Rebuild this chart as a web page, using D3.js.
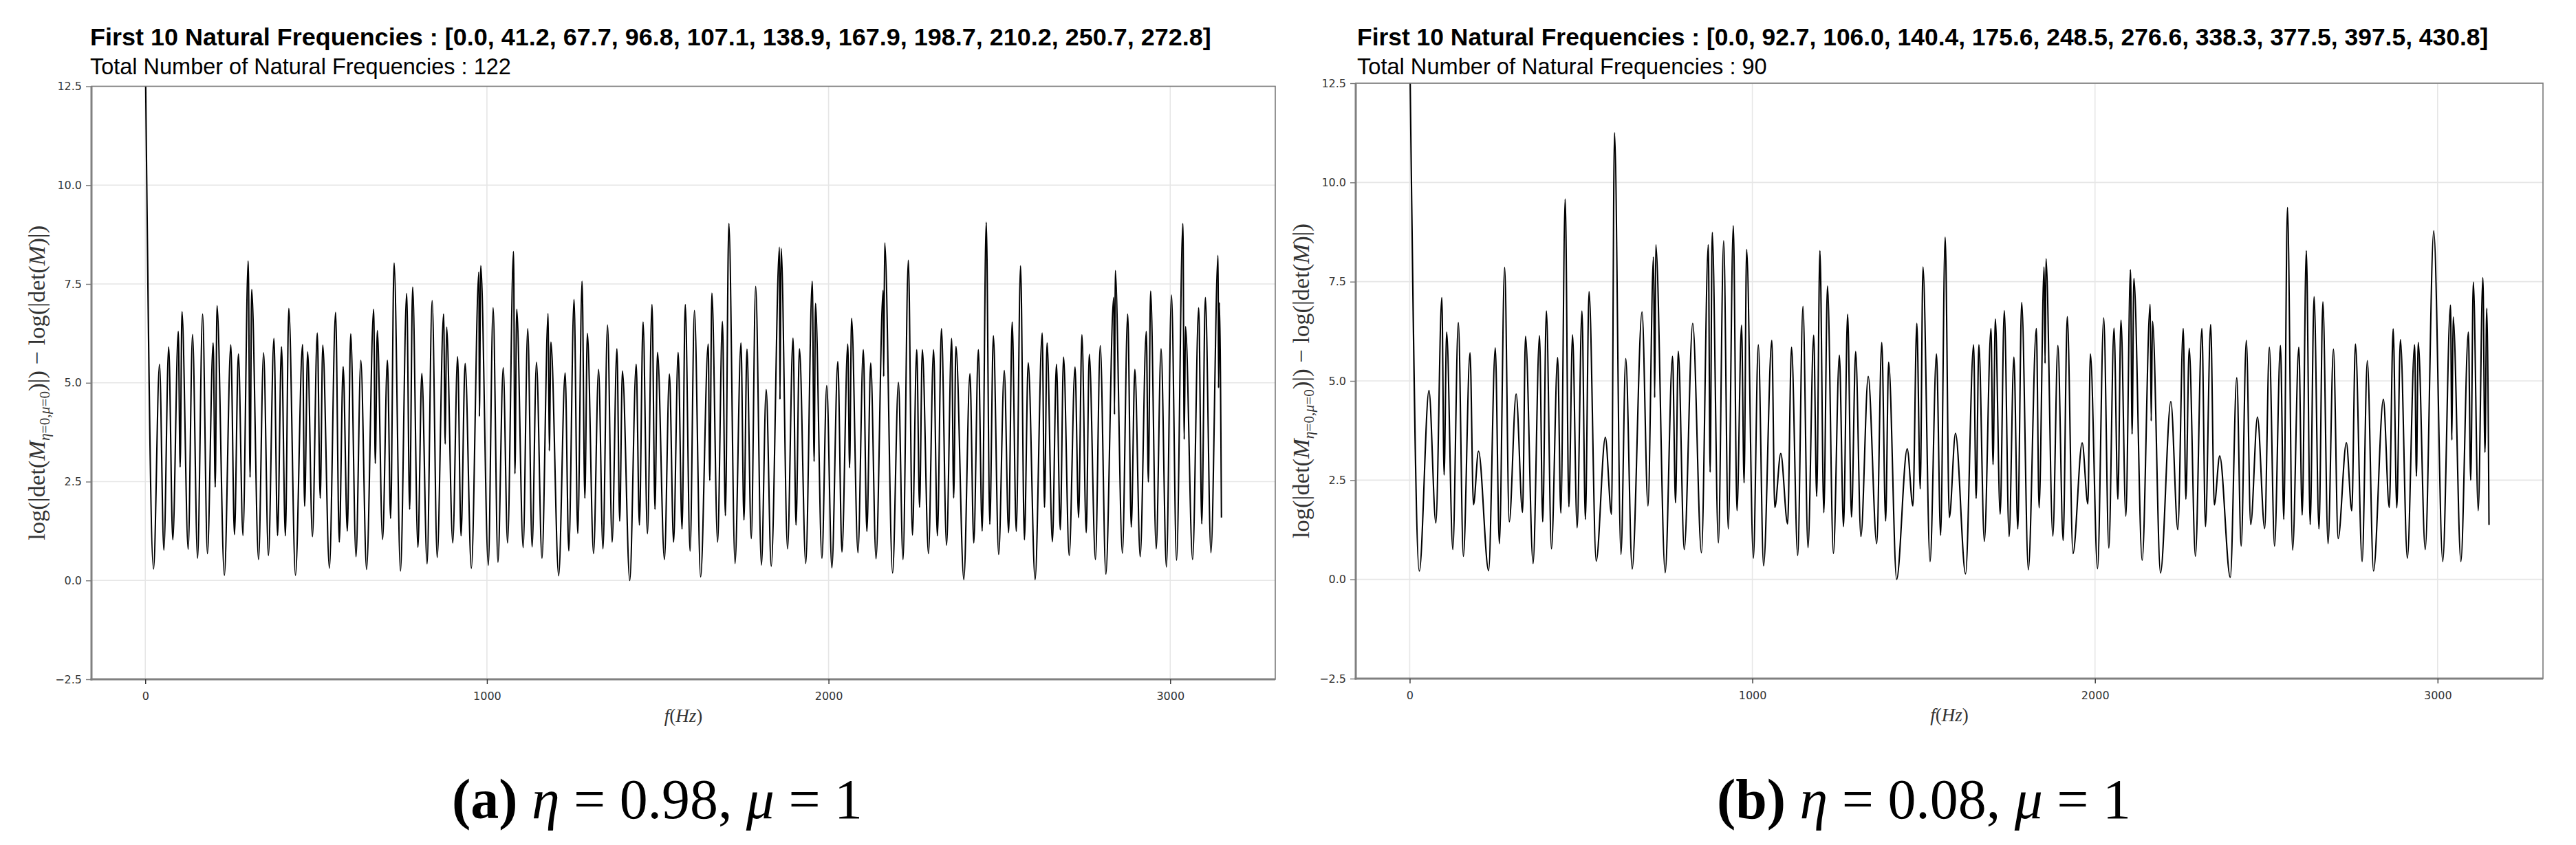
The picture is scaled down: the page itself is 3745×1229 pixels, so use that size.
<!DOCTYPE html>
<html><head><meta charset="utf-8">
<script src="https://cdn.jsdelivr.net/npm/d3@7/dist/d3.min.js"></script>
<style>body{margin:0;background:#fff}svg{display:block}</style>
</head><body>
<svg id="c" width="3745" height="1229"></svg>
<script>
// ---------- DATA ----------
const freqA=[0,24.2,41.6,54.4,68.5,80.5,96.6,102,107.4,125.5,138.3,153,167.8,181.9,198.7,204.7,210,231.5,250.3,261,272.5,285.9,301.3,306.7,311.4,331.5,346.3,360.4,376.5,387.2,398.7,410,420.1,439.6,460.4,466.4,475.2,489.3,503.4,512.1,519.5,538.9,557,567.8,579.2,591.3,601.3,616.8,630.9,647.7,668.5,673.2,679.2,694.6,708.7,718.1,728.2,747,765.1,773.8,782.6,798,809.4,824.8,839.6,854.4,873.2,877.9,881.9,900,914.1,924.2,936.2,954.4,976.5,977.9,981.9,1004,1018.1,1032.2,1047.7,1060.4,1077.9,1081.9,1087.2,1106,1119.5,1132.2,1145,1161.1,1179.2,1182.6,1187.2,1210,1228.9,1239.6,1255,1265.8,1278.5,1286.6,1294,1312.1,1326.8,1339.6,1353,1366.4,1380.5,1388.6,1396.6,1418.1,1436.9,1446.3,1457,1469.8,1483.2,1491.9,1499.3,1519.5,1534.2,1546.3,1559.7,1571.1,1580.5,1594.6,1607.4,1625.5,1647.7,1652.3,1658.4,1675.2,1689.3,1698,1708.1,1726.2,1743.6,1752.3,1761.1,1773.8,1786.6,1803.4,1817.4,1832.2,1856.4,1857.7,1861.1,1879.9,1896,1904.7,1914.8,1933.2,1952.3,1957.7,1961.7,1980.5,1994.6,2009.7,2027,2039.1,2056.2,2061.5,2067.4,2086,2101.7,2112.1,2123.3,2138.9,2159.8,2161.3,2164.3,2187.4,2204.5,2217.9,2233.5,2245.4,2258.1,2266.3,2274.5,2292.4,2307.3,2318.5,2330.4,2345.3,2360.2,2366.1,2372.8,2395.9,2413.8,2425,2438.4,2449.6,2461.5,2471.9,2482.4,2497.9,2514.3,2527,2537.4,2549.3,2562,2573.2,2584.4,2604.5,2625.3,2632,2639.5,2655.1,2667,2678.2,2687.8,2704.3,2721.4,2731.8,2741.5,2754.2,2763.1,2781.1,2795.2,2811.6,2834.6,2836.9,2839.1,2860,2875.6,2886,2896.5,2912.1,2930,2936,2942.6,2959,2973.2,2988.8,3003.7,3018.6,3037.2,3041,3044.7,3065.5,3083.4,3092.4,3102.8,3119.2,3140.1,3141.5,3143.8,3150];
const valA=[13.5,0.29,5.47,0.77,5.91,1.03,6.30,2.87,6.80,0.79,6.22,0.56,6.74,0.68,6.01,2.36,6.95,0.13,5.96,1.16,5.73,1.14,8.08,2.61,7.36,0.53,5.76,0.63,6.12,1.14,5.91,1.13,6.88,0.13,5.97,1.88,5.78,1.11,6.26,2.08,5.95,0.31,6.78,0.97,5.41,1.25,6.24,0.60,5.57,0.28,6.86,2.96,6.32,1.04,5.57,1.57,8.03,0.24,7.26,1.80,7.42,0.84,5.24,0.42,7.08,0.58,6.74,3.45,6.41,0.95,5.66,1.13,5.49,0.31,7.80,4.15,7.96,0.38,6.90,0.46,5.38,0.95,8.32,2.70,6.86,0.83,6.37,0.85,5.52,0.56,6.75,3.28,6.03,0.12,5.25,0.75,7.11,1.19,7.57,2.08,6.25,0.68,5.34,0.80,6.46,0.97,5.86,1.50,5.30,0.0,5.47,1.40,6.54,1.18,6.98,1.80,5.77,0.53,5.22,0.97,5.77,1.30,6.98,0.74,6.83,0.09,5.98,2.53,7.27,0.97,6.55,1.64,9.03,0.43,6.01,1.53,5.85,1.06,7.44,0.39,4.83,0.36,8.43,4.58,8.40,0.80,6.13,1.40,5.86,0.43,7.57,3.01,7.01,0.56,4.93,0.32,5.54,0.72,5.98,2.85,6.63,0.70,5.84,1.24,5.50,0.55,7.34,5.16,8.54,0.19,5.01,0.53,8.10,1.15,5.84,1.85,5.84,0.68,5.84,1.13,6.37,0.89,6.12,2.09,5.92,0.02,5.23,0.95,5.84,1.25,9.06,1.42,6.19,0.66,5.31,1.21,6.54,1.24,7.96,1.03,5.51,0.02,6.26,1.85,6.01,0.98,5.47,1.28,5.65,0.63,5.40,1.59,6.21,1.21,5.72,0.53,5.94,0.16,7.16,4.20,7.84,0.69,6.74,1.35,5.34,0.60,6.30,2.49,7.32,0.80,5.86,0.34,7.22,0.51,9.03,3.57,6.42,0.53,6.90,1.43,7.16,0.70,8.22,4.87,7.03,1.59];

const freqB=[0,28.1,56.2,76.3,93.7,100.4,107.8,125.8,141.9,156.6,176,186.1,200.8,230.3,249.7,261.7,277.1,290.5,310.6,329.3,338,360.1,378.8,388.2,398.9,413.7,431.7,441.1,453.8,464.5,475.2,488.6,502.7,512.7,523.4,544.2,570.9,589,597.7,616.5,630.5,649.3,678,695.4,711.5,714.9,718.2,745.6,767.1,775.8,783.8,801.2,826,851.4,871.5,876.8,882.9,900.9,916.3,929.7,944.4,955.1,968.5,975.9,983.3,1003,1017.4,1032.8,1056.8,1065.5,1082.9,1102.9,1114.3,1132.4,1147.7,1162.4,1179.1,1187.8,1197.2,1208.6,1219.3,1236.6,1254,1266,1278.1,1289.4,1301.5,1316.8,1338.2,1363,1377.7,1389,1397.7,1421.1,1451.9,1468.6,1480,1490,1498,1518.7,1537.4,1549.5,1562.8,1574.9,1592.9,1622.3,1645.7,1653.1,1661.1,1677.1,1696.5,1702.5,1709.2,1723.3,1735.3,1749.3,1763.4,1774.7,1786.1,1805.5,1828.9,1836.9,1851.6,1854.3,1857,1877,1891.7,1907.1,1919.1,1935.8,1962.6,1979.3,1986.6,2007.5,2025.5,2040.4,2055.5,2066.8,2075.8,2090.1,2103.7,2108.3,2113.5,2137.7,2161.1,2164.1,2167.9,2191.2,2221.4,2241.8,2257.6,2265.2,2275,2293.1,2312,2322.5,2337.6,2348.2,2364,2394.9,2413.8,2426.6,2441.7,2454.5,2474.2,2495.3,2508.9,2524,2541.3,2551.1,2561.7,2576.8,2594.9,2604.7,2616.8,2628.1,2639.4,2653.8,2665.1,2680.2,2696,2709.6,2733.7,2749.5,2760.1,2779.7,2794.8,2812.9,2841.6,2858.9,2870.3,2880.8,2891.4,2911.7,2932.9,2938.1,2943.4,2963.8,2988.7,3015,3037.7,3041.5,3045.3,3067.9,3089.8,3096.6,3104.2,3118.5,3132.1,3138.1,3143.4,3150];
const valB=[13.5,0.21,4.76,1.42,7.10,2.63,6.23,0.75,6.47,0.58,5.71,1.88,3.23,0.22,5.83,0.90,7.86,1.45,4.67,1.69,6.12,0.40,6.14,1.45,6.76,0.77,5.59,1.67,9.58,1.83,6.16,1.30,6.76,1.51,7.25,0.46,3.58,1.64,11.25,0.63,5.56,0.26,6.74,1.85,8.12,4.58,8.43,0.17,5.62,1.93,5.75,0.75,6.45,0.67,8.43,2.70,8.74,0.92,8.53,1.27,8.91,1.73,6.40,2.43,8.31,0.53,5.91,0.34,6.02,1.81,3.17,1.40,5.85,0.60,6.88,0.80,6.15,2.09,8.28,1.68,7.39,0.65,5.65,1.33,6.68,1.57,5.74,1.08,5.11,0.90,5.97,1.47,5.47,0.0,3.29,1.85,6.45,2.28,7.87,0.45,5.68,1.11,8.62,1.56,3.68,0.14,5.91,2.04,5.91,0.96,6.32,2.89,6.56,1.64,6.77,1.08,5.60,1.27,6.98,0.24,6.32,1.80,7.87,5.44,8.08,1.09,5.89,0.98,6.62,0.65,3.44,1.90,5.68,0.27,6.59,0.79,6.33,2.02,6.53,1.59,7.80,3.66,7.58,0.48,6.93,3.99,6.50,0.16,4.48,1.25,6.32,2.02,5.82,0.58,6.32,1.33,6.42,1.88,3.11,0.05,5.08,0.84,6.02,1.38,4.09,1.28,5.85,0.84,5.89,1.51,9.37,0.74,5.85,1.62,8.28,1.38,7.12,1.27,6.99,0.90,5.80,1.03,3.44,1.73,5.93,0.45,5.51,0.21,4.54,1.81,6.31,1.80,6.04,0.53,5.91,2.60,5.97,0.75,8.78,0.45,6.91,3.51,6.61,0.45,6.23,2.50,7.49,1.73,7.60,3.20,6.83,1.37];

const xTicks=[0,1000,2000,3000];
const yTicks=[-2.5,0,2.5,5,7.5,10,12.5];
const xDomain=[-157.5,3307.5];
const yDomain=[-2.5,12.5];
const titleA="First 10 Natural Frequencies : [0.0, 41.2, 67.7, 96.8, 107.1, 138.9, 167.9, 198.7, 210.2, 250.7, 272.8]";
const subA="Total Number of Natural Frequencies : 122";
const titleB="First 10 Natural Frequencies : [0.0, 92.7, 106.0, 140.4, 175.6, 248.5, 276.6, 338.3, 377.5, 397.5, 430.8]";
const subB="Total Number of Natural Frequencies : 90";
const capLabels=["(a)","(b)"];
const capEta=["0.98","0.08"];
const capMu=["1","1"];

// ---------- DRAWING ----------
const svg=d3.select("#c");
svg.append("rect").attr("width",3745).attr("height",1229).attr("fill","#fff");

function fitWidth(sel,target){
  const w=sel.node().getComputedTextLength();
  const fs=parseFloat(sel.attr("font-size"));
  sel.attr("font-size",(fs*target/w).toFixed(2));
}

const panels=[
  {freq:freqA,val:valA,title:titleA,sub:subA,x0:133,x1:1854,y0:125.5,y1:988,titleX:131,titleW:1630,subW:612,cap:0,capX:657,capW:597},
  {freq:freqB,val:valB,title:titleB,sub:subB,x0:1971,x1:3697,y0:121,y1:987,titleX:1973,titleW:1645,subW:596,cap:1,capX:2496,capW:602}
];

panels.forEach((p,pi)=>{
  const g=svg.append("g");
  const x=d3.scaleLinear().domain(xDomain).range([p.x0,p.x1]);
  const y=d3.scaleLinear().domain(yDomain).range([p.y1,p.y0]);

  // grid
  g.append("g").selectAll("line").data(xTicks).join("line")
    .attr("x1",d=>x(d)).attr("x2",d=>x(d)).attr("y1",p.y0).attr("y2",p.y1)
    .attr("stroke","#e6e6e6").attr("stroke-width",1.6);
  g.append("g").selectAll("line").data(yTicks).join("line")
    .attr("x1",p.x0).attr("x2",p.x1).attr("y1",d=>y(d)).attr("y2",d=>y(d))
    .attr("stroke","#e6e6e6").attr("stroke-width",1.6);

  // clip
  const cid="clip"+pi;
  svg.append("clipPath").attr("id",cid).append("rect")
    .attr("x",p.x0).attr("y",p.y0).attr("width",p.x1-p.x0).attr("height",p.y1-p.y0);

  const line=d3.line().x((d,i)=>x(p.freq[i])).y(d=>y(d)).curve(d3.curveMonotoneX);
  g.append("path").attr("d",line(p.val)).attr("fill","none").attr("stroke","#000")
    .attr("stroke-width",2.1).attr("stroke-linejoin","round").attr("clip-path","url(#"+cid+")");

  // frame
  g.append("rect").attr("x",p.x0).attr("y",p.y0).attr("width",p.x1-p.x0).attr("height",p.y1-p.y0)
    .attr("fill","none").attr("stroke","#7a7a7a").attr("stroke-width",1.6);
  g.append("line").attr("x1",p.x0).attr("x2",p.x0).attr("y1",p.y0).attr("y2",p.y1+1.5).attr("stroke","#808080").attr("stroke-width",3);
  g.append("line").attr("x1",p.x0-1.5).attr("x2",p.x1).attr("y1",p.y1).attr("y2",p.y1).attr("stroke","#808080").attr("stroke-width",3);

  // axes
  const ya=g.append("g").attr("transform",`translate(${p.x0},0)`)
    .call(d3.axisLeft(y).tickValues(yTicks).tickFormat(d3.format(".1f")).tickSize(8).tickPadding(6));
  ya.select(".domain").remove();
  ya.selectAll(".tick line").attr("stroke","#777").attr("stroke-width",1.4);
  ya.selectAll(".tick text").attr("font-family","DejaVu Sans").attr("font-size",16).attr("fill","#333");

  const xa=g.append("g").attr("transform",`translate(0,${p.y1})`)
    .call(d3.axisBottom(x).tickValues(xTicks).tickFormat(d3.format("d")).tickSize(7).tickPadding(12));
  xa.select(".domain").remove();
  xa.selectAll(".tick line").attr("stroke","#333").attr("stroke-width",1.4);
  xa.selectAll(".tick text").attr("font-family","DejaVu Sans").attr("font-size",16).attr("fill","#333");

  // x title
  const cx=(p.x0+p.x1)/2;
  const xt=g.append("text").attr("x",cx).attr("y",p.y1+62).attr("text-anchor","middle")
    .attr("font-family","Liberation Serif").attr("font-size",27).attr("fill","#333");
  xt.append("tspan").attr("font-style","italic").text("f");
  xt.append("tspan").text("(");
  xt.append("tspan").attr("font-style","italic").text("Hz");
  xt.append("tspan").text(")");

  // y title
  const cy=(p.y0+p.y1)/2;
  const yt=g.append("text").attr("transform",`translate(${p.x0-68},${cy}) rotate(-90)`)
    .attr("text-anchor","middle").attr("font-family","Liberation Serif").attr("font-size",26).attr("fill","#333");
  yt.append("tspan").text("log(|det(");
  yt.append("tspan").attr("font-style","italic").text("M");
  const sb=yt.append("tspan").attr("font-size","62%").attr("dy","0.35em");
  sb.append("tspan").attr("font-style","italic").text("η");
  sb.append("tspan").text("=0,");
  sb.append("tspan").attr("font-style","italic").text("μ");
  sb.append("tspan").text("=0");
  yt.append("tspan").attr("dy","-0.22em").text(")|) − log(|det(");
  yt.append("tspan").attr("font-style","italic").text("M");
  yt.append("tspan").text(")|)");
  fitWidth(yt,458);

  // titles
  const t1=svg.append("text").attr("x",p.titleX).attr("y",66).attr("font-family","Liberation Sans")
    .attr("font-weight","bold").attr("font-size",34).attr("fill","#000").text(p.title);
  fitWidth(t1,p.titleW);
  const t2=svg.append("text").attr("x",p.titleX).attr("y",108).attr("font-family","Liberation Sans")
    .attr("font-size",30).attr("fill","#000").text(p.sub);
  fitWidth(t2,p.subW);

  // caption
  const cp=svg.append("text").attr("x",p.capX).attr("y",1190).attr("font-family","Liberation Serif")
    .attr("font-size",52).attr("fill","#000");
  cp.append("tspan").attr("font-weight","bold").text(capLabels[p.cap]);
  cp.append("tspan").text(" ");
  cp.append("tspan").attr("font-style","italic").text("η");
  cp.append("tspan").text(" = "+capEta[p.cap]+", ");
  cp.append("tspan").attr("font-style","italic").text("μ");
  cp.append("tspan").text(" = "+capMu[p.cap]);
  fitWidth(cp,p.capW);
});
</script>
</body></html>
